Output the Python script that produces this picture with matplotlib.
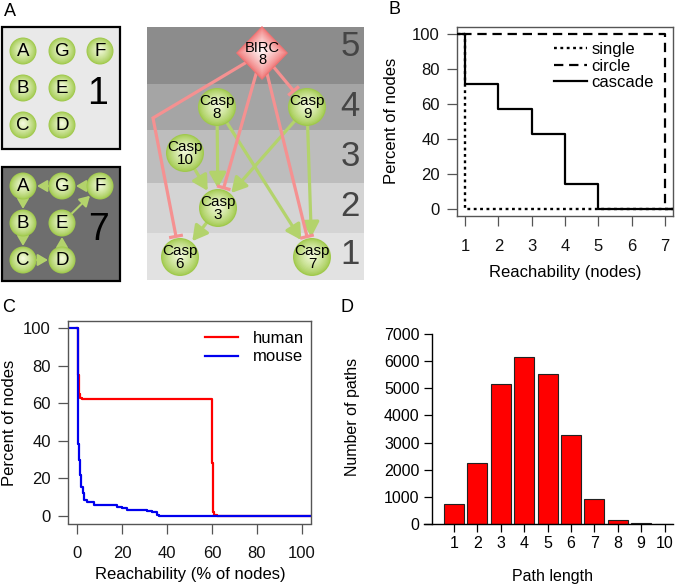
import numpy as np
import matplotlib
matplotlib.use("Agg")
import matplotlib.pyplot as plt
from matplotlib.patches import Circle, Rectangle, Polygon, FancyArrowPatch
from matplotlib.colors import to_rgb

plt.rcParams['font.family'] = ['Liberation Sans', 'DejaVu Sans']

W, H = 686, 588

# ---------------- data ----------------
# panel A (left): two toy graphs, reachability score shown in the box
toy_nodes = ["A", "G", "F", "B", "E", "C", "D"]
toy_edges = [("G", "A"), ("F", "G"), ("A", "B"), ("B", "C"), ("C", "D"), ("D", "E"), ("E", "F")]
toy_scores = ["1", "7"]

# panel A (right): caspase cascade, level = reachability
casp_nodes = ["BIRC8", "Casp8", "Casp9", "Casp10", "Casp3", "Casp6", "Casp7"]
casp_levels = [5, 4, 4, 3, 2, 1, 1]
activates = [("Casp8", "Casp3"), ("Casp8", "Casp7"), ("Casp9", "Casp3"),
             ("Casp9", "Casp7"), ("Casp10", "Casp3"), ("Casp3", "Casp6")]
inhibits = [("BIRC8", "Casp6"), ("BIRC8", "Casp3"), ("BIRC8", "Casp9"), ("BIRC8", "Casp7")]

# panel B
reach_x = [0, 1, 2, 3, 4, 5, 6, 7, 8]
single_pct = [100, 100, 0, 0, 0, 0, 0, 0, 0]
circle_pct = [100, 100, 100, 100, 100, 100, 100, 100, 0]
cascade_pct = [100, 100, 71.4, 57.1, 42.9, 14.3, 0, 0, 0]

# panel C (step curves)
human_x = [0, 0.5, 0.7, 1.0, 1.5, 2.2, 59.8, 60.4, 61.0, 62.0, 104]
human_pct = [100, 75, 68, 65, 63, 62, 28, 2, 0.7, 0, 0]
mouse_x = [-4, 0.4, 1.0, 1.5, 1.9, 2.7, 3.3, 4.4, 7.4, 17.8, 20.0, 22.2, 25.9,
           31.1, 33.3, 35.6, 36.3, 104]
mouse_pct = [100, 38.5, 29.7, 21.7, 15.5, 12.0, 8.5, 7.6, 5.8, 5.0, 4.1, 3.2, 3.0,
             2.6, 2.0, 0.5, 0, 0]

# panel D
path_len = [1, 2, 3, 4, 5, 6, 7, 8, 9, 10]
n_paths = [720, 2240, 5160, 6140, 5530, 3270, 930, 150, 40, 10]

# ---------------- layout / style ----------------
NODE_EDGE, NODE_MID = "#a0c94c", "#f3fadc"
DIA_EDGE, DIA_MID = "#ef7373", "#fff3f3"
GREEN, RED = "#b3d36c", "#f59191"

fig = plt.figure(figsize=(W / 100, H / 100), dpi=100)
ov = fig.add_axes([0, 0, 1, 1])
ov.set_xlim(0, W)
ov.set_ylim(H, 0)
ov.axis('off')


def box_axes(x0, y0, x1, y1):
    return fig.add_axes([x0 / W, 1 - y1 / H, (x1 - x0) / W, (y1 - y0) / H])


def blend(c0, c1, t):
    a, b = np.array(to_rgb(c0)), np.array(to_rgb(c1))
    return tuple(a + (b - a) * t)


def ball(x, y, r, label, fs):
    steps = 16
    for i in range(steps):
        t = i / (steps - 1)
        ov.add_patch(Circle((x, y - 0.12 * r * t), r * (1 - 0.92 * t),
                            fc=blend(NODE_EDGE, NODE_MID, t ** 0.8), lw=0, zorder=5))
    ov.text(x, y + 0.5, label, ha='center', va='center', fontsize=fs, zorder=6,
            linespacing=0.82)


def diamond(x, y, hw, hh, label, fs):
    steps = 16
    for i in range(steps):
        t = i / (steps - 1)
        s = 1 - 0.92 * t
        cy = y - 0.1 * hh * t
        ov.add_patch(Polygon([(x, cy - hh * s), (x + hw * s, cy), (x, cy + hh * s), (x - hw * s, cy)],
                             closed=True, fc=blend(DIA_EDGE, DIA_MID, t ** 0.75), lw=0, zorder=5))
    ov.text(x, y + 1, label, ha='center', va='center', fontsize=fs, zorder=6, linespacing=0.82)


def arrow(p, q, gap, color, lw, ms, hl, hw):
    p, q = np.array(p, float), np.array(q, float)
    u = (q - p) / np.hypot(*(q - p))
    end = q - u * gap
    ov.add_patch(FancyArrowPatch(tuple(p), tuple(end),
                                 arrowstyle=f"-|>,head_length={hl},head_width={hw}",
                                 mutation_scale=ms, color=color, lw=lw,
                                 shrinkA=0, shrinkB=0, zorder=3))


def tbar(points, gap, color, lw, half):
    pts = np.array(points, float)
    u = pts[-1] - pts[-2]
    u = u / np.hypot(*u)
    pts[-1] = pts[-1] - u * gap
    ov.plot(pts[:, 0], pts[:, 1], color=color, lw=lw, solid_capstyle='butt',
            solid_joinstyle='miter', zorder=3)
    n = np.array([-u[1], u[0]])
    a, b = pts[-1] + n * half, pts[-1] - n * half
    ov.plot([a[0], b[0]], [a[1], b[1]], color=color, lw=lw, solid_capstyle='butt', zorder=3)


# ---- panel A, toy graphs ----
toy_col = {"A": 0, "G": 1, "F": 2, "B": 0, "E": 1, "C": 0, "D": 1}
toy_row = {"A": 0, "G": 0, "F": 0, "B": 1, "E": 1, "C": 2, "D": 2}
col_x = [23, 62, 100]
toy_boxes = [(2, 27, 120, 149, "#e9e9e9", 51), (2, 167, 120, 281, "#6e6e6e", 186)]
for k, (x0, y0, x1, y1, fc, top) in enumerate(toy_boxes):
    ov.add_patch(Rectangle((x0, y0), x1 - x0, y1 - y0, fc=fc, ec="black", lw=1.6, zorder=1))
    pos = {n: (col_x[toy_col[n]], top + 37 * toy_row[n]) for n in toy_nodes}
    for n in toy_nodes:
        ball(*pos[n], 13.5, n, 13.5)
    if k == 1:
        for a, b in toy_edges:
            arrow(pos[a], pos[b], 14, GREEN, 1.5, 10, 0.6, 0.35)
    ov.text(98, (y0 + y1) / 2 + 6, toy_scores[k], ha='center', va='center', fontsize=27)

# ---- panel A, caspase network ----
band_span = {5: (27, 84), 4: (84, 130), 3: (130, 183), 2: (183, 233), 1: (233, 280)}
band_col = {5: "#8c8c8c", 4: "#a5a5a5", 3: "#bdbdbd", 2: "#d4d4d4", 1: "#e2e2e2"}
band_num_y = {5: 46, 4: 107, 3: 157, 2: 207, 1: 254}
for lev in sorted(set(casp_levels)):
    y0, y1 = band_span[lev]
    ov.add_patch(Rectangle((147, y0), 217, y1 - y0, fc=band_col[lev], lw=0, zorder=0))
    ov.text(350, band_num_y[lev], str(lev), ha='center', va='center', fontsize=25, color="#454545")

node_x = {"BIRC8": 262, "Casp8": 217, "Casp9": 307, "Casp10": 185,
          "Casp3": 218, "Casp6": 180, "Casp7": 312}
level_y = {5: 53, 4: 107, 3: 153, 2: 208, 1: 257}
npos = {n: (node_x[n], level_y[lv]) for n, lv in zip(casp_nodes, casp_levels)}
bends = {("BIRC8", "Casp6"): [(153, 118)]}
R = 19

for a, b in activates:
    arrow(npos[a], npos[b], R + 1, GREEN, 2.3, 10, 0.9, 0.5)
for a, b in inhibits:
    tbar([npos[a]] + bends.get((a, b), []) + [npos[b]], R + 2, RED, 2.3, 7)

for n in casp_nodes:
    label = n[:4] + "\n" + n[4:]
    if n.startswith("BIRC"):
        diamond(*npos[n], 26, 27, label, 10.5)
    else:
        ball(*npos[n], R, label, 11)

# ---- panel letters ----
for s, x, y in [("A", 10, 12), ("B", 395, 10), ("C", 9, 308), ("D", 347, 308)]:
    ov.text(x, y, s, ha='center', va='center', fontsize=13)


def set_label_px(ax, box, which, px, py):
    x0, y0, x1, y1 = box
    axis = ax.xaxis if which == 'x' else ax.yaxis
    axis.set_label_coords((px - x0) / (x1 - x0), (y1 - py) / (y1 - y0))
    axis.label.set_va('center')


def r_style(ax, color="#555555"):
    for sp in ax.spines.values():
        sp.set_color(color)
        sp.set_linewidth(1.0)
    ax.tick_params(direction='out', length=7.5, width=0.9, color=color, labelsize=12,
                   labelcolor="#111111")
    ax.tick_params(axis='y', pad=5)
    ax.tick_params(axis='x', pad=9)


# ---- panel B ----
boxB = (457, 27, 673, 216)
axB = box_axes(*boxB)
axB.plot(reach_x, single_pct, color='black', lw=1.7, ls=(0, (1.2, 1.5)),
         drawstyle='steps-pre', label='single', zorder=2)
axB.plot(reach_x, cascade_pct, color='black', lw=1.6, drawstyle='steps-pre',
         label='cascade', zorder=3)
axB.plot(reach_x, circle_pct, color='black', lw=1.6, ls=(0, (4.2, 2.6)),
         drawstyle='steps-pre', label='circle', zorder=4)
axB.set_xlim(0.76, 7.24)
axB.set_ylim(-4, 104)
axB.set_xticks(range(1, 8))
axB.set_yticks(range(0, 101, 20))
r_style(axB)
axB.set_xlabel("Reachability (nodes)", fontsize=12)
axB.set_ylabel("Percent of nodes", fontsize=12)
set_label_px(axB, boxB, 'x', 565, 273)
set_label_px(axB, boxB, 'y', 392, 121)
h, l = axB.get_legend_handles_labels()
order = [l.index(s) for s in ["single", "circle", "cascade"]]
axB.legend([h[i] for i in order], [l[i] for i in order], loc='upper left',
           bbox_to_anchor=((554 - 457) / 216, (216 - 42) / 189), frameon=False, fontsize=12,
           handlelength=2.0, handletextpad=0.25, labelspacing=0.1, borderpad=0, borderaxespad=0)

# ---- panel C ----
boxC = (68, 320.5, 311, 523.5)
axC = box_axes(*boxC)
axC.plot(human_x, human_pct, color='#ff0000', lw=1.6, drawstyle='steps-post', label='human')
axC.plot(mouse_x, mouse_pct, color='#0000ee', lw=1.6, drawstyle='steps-post', label='mouse')
axC.set_xlim(-4, 104)
axC.set_ylim(-4, 104)
axC.set_xticks(range(0, 101, 20))
axC.set_yticks(range(0, 101, 20))
r_style(axC)
axC.set_xlabel("Reachability (% of nodes)", fontsize=12)
axC.set_ylabel("Percent of nodes", fontsize=12)
set_label_px(axC, boxC, 'x', 190, 575)
set_label_px(axC, boxC, 'y', 10, 423)
axC.legend(loc='upper left', bbox_to_anchor=((205 - 68) / 243, (523.5 - 331) / 203),
           frameon=False, fontsize=12, handlelength=2.0, handletextpad=0.85,
           labelspacing=0.2, borderpad=0, borderaxespad=0)

# ---- panel D ----
boxD = (424, 334, 673, 524)
axD = box_axes(*boxD)
axD.bar(path_len, n_paths, width=0.85, color='#ff0000', edgecolor='#222222', lw=0.8)
axD.set_xlim(-0.28, 10.36)
axD.set_ylim(0, 7000)
axD.set_xticks(path_len)
axD.set_yticks(range(0, 7001, 1000))
for s in ['top', 'right']:
    axD.spines[s].set_visible(False)
axD.spines['left'].set_position(('axes', 8 / 249))
for s in ['left', 'bottom']:
    axD.spines[s].set_linewidth(1.0)
axD.tick_params(direction='out', length=6, width=0.9, labelsize=11.5, colors='black')
axD.tick_params(axis='y', pad=3)
axD.tick_params(axis='x', pad=3)
axD.set_xlabel("Path length", fontsize=11.5)
axD.set_ylabel("Number of paths", fontsize=11.5)
set_label_px(axD, boxD, 'x', 552, 577)
set_label_px(axD, boxD, 'y', 353, 417)

fig.savefig("out.png", dpi=100)
